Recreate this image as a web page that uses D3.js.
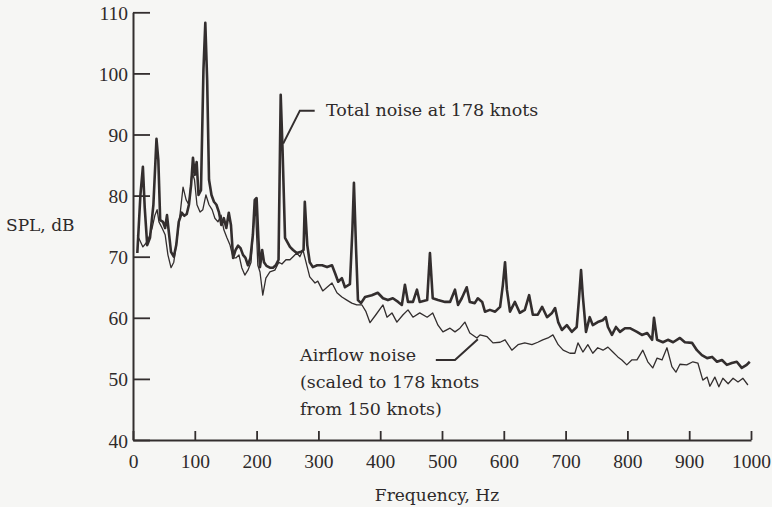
<!DOCTYPE html>
<html>
<head>
<meta charset="utf-8">
<script src="https://cdn.jsdelivr.net/npm/d3@7"></script>
<style>
  html, body { margin: 0; padding: 0; background: #f6f6f4; }
  svg { display: block; }
  text { font-family: "DejaVu Serif", "Liberation Serif", serif; fill: #2e2a2a; }
</style>
</head>
<body>
<svg id="chart" width="772" height="507"></svg>
<script>
// ---- Data ----
const xTicks = [0, 100, 200, 300, 400, 500, 600, 700, 800, 900, 1000];
const yTicks = [40, 50, 60, 70, 80, 90, 100, 110];

// Total noise at 178 knots: [frequency Hz, SPL dB]
const totalFreq = [7,12,16,19,23,27.5,33,38,41,44,48.5,52,55,58,61.5,66,70,74,79,83,87,90.5,94,97,100,103,106,110,114,117,120,123,127,131,135,139,143,147,151,155,158.5,162,166,170,174,178,182,186,190,194,197,200,203,205.5,209,212,216,221.5,226.5,231,235.5,239,242,246,254,259,265,272,276,278,282,286,291,298,306,314,322,327,332,338,343,351,355,357.5,361,364,369,375.5,386.5,396,404.5,412.5,420.5,429,435,440,445,453,459.5,464,476,480.5,485,493.5,505,513,521,526,532,540,545,553,558,565,569.5,577.5,586,594,598.5,602,605,610,618,626,634,641,647,655,662,670,678,683,688,694,702,710,718,721.5,725,728,733,739,744,752,760,765,768.5,775,781.5,788,796,804,815.5,823.5,832,840,843,848,857.5,865.5,874,885,893,904.5,912.5,920.5,929,937,945,953,961,969,977,985,993,998];
const totalSPL = [70.6,80.1,84.7,78,71.9,73.1,78.5,89.3,85.8,76,75.7,74.7,76.8,74,70.8,70,71.9,75.7,77.2,76.7,77,78.5,81.7,86.2,83.4,85.5,80.1,80.9,100.6,108.3,98.9,82.6,80.1,79,78.5,77.3,75.2,76.3,74.7,77.2,75.2,69.8,71.1,71.8,71.4,70.3,69.8,68.6,69.8,73.6,79.3,79.6,72.7,68.3,71.1,69.1,68.5,68.2,68.2,68.6,69.5,96.5,87.5,73.1,71.6,71.1,70.6,70.8,71.1,79,71.9,69.1,68.3,68.6,68.6,68.3,68.6,67.3,65.9,66.5,65,65.5,74.4,82.1,71.1,62.9,62.4,63.4,63.7,64.1,63.2,62.9,63.2,62.6,62.1,65.4,62.6,62.6,64.6,62.6,62.9,70.6,63.2,62.9,62.6,62.6,64.6,62.1,63.2,65,62.6,62.4,63.2,62.6,61,61.3,61,61.8,65.4,69.1,64.6,61,62.6,60.8,61.3,63.7,60.5,60.5,61.8,60.1,60.8,61.6,59.3,58,58.8,57.7,58.5,62.9,67.8,63.4,57.7,60.1,58.8,59.3,59.6,60.1,58.5,57.2,58.5,57.7,58.3,58.3,57.7,57.2,57.5,56.4,60,56.4,56,56.4,56,56.7,56,55.9,54.7,53.9,53.4,53.6,52.8,53.1,52.3,52.6,52.8,51.8,52.3,52.8];

// Airflow noise (scaled to 178 knots from 150 knots): [frequency Hz, SPL dB]
const airFreq = [7,11,16,21,26,31,35.5,39,42,47,52,56.5,61.5,66,71,76,81,86,90.5,95.5,99.5,103.5,108.5,113,118,123,128,132.5,137.5,142.5,147,152,157,162,166.5,171.5,176,181,186,191,194,198,202,205.5,210,215,221.5,229.5,236,241,247.5,254,259,265,270,275,281.5,286,294.5,299,307,314,322,330,338,346,354,362,370.5,377,383.5,393,404.5,411,419,427,437,445,453,464,476,485,493.5,501.5,513,521,529,537,545,556.5,561.5,573,582.5,594,602,613,623,634,645.5,655,663,671.5,679.5,688,696,707,715,720,728,736,744,752,760.5,768.5,776.5,784.5,791,799,807,815.5,825,833,841,848,856,864,872,878.5,885,896,906,914,922,929,933.5,941.5,948,954.5,963,971,979,987,995];
const airSPL = [73.5,72.7,71.6,72.2,73.2,74.7,76.8,77.7,75.7,74.7,73.6,70.3,68.2,69.1,72.7,76.8,81.4,79.3,78.5,83.9,82.6,78.5,77.3,77.7,80.1,78.5,77.7,76.3,75.7,76.8,74.4,73.1,71.9,69.8,69.8,70.3,68.2,67,67.8,69.1,73.6,78.5,68.6,67.5,63.7,66.5,67.5,67.8,69.1,68.8,69.5,69.5,70,70.6,70,71.1,68.5,66.7,65.7,66,64.4,65,65.7,64.1,63.4,62.9,62.4,62.1,62.1,61,59.2,60.5,62.1,60.1,60.8,59.3,60.5,61.3,60.1,60.8,60.1,60.8,58.8,57.7,58.3,57.7,58.3,59.3,57.5,56.7,57.2,56.9,55.9,56,56.4,54.7,55.6,55.9,55.6,56,56.4,56.7,57.2,55.6,54.7,54.2,54.2,55.9,54.4,55.6,54.2,55.1,54.7,55.2,54.4,53.6,53.1,52.3,53.1,53.1,54.7,52.8,51.8,53.4,53.1,55.1,52,51.1,52.4,52.3,52.8,52.6,49.8,50.3,48.8,50.3,48.7,50.1,49.2,50.1,49.5,50.1,49];

const labels = {
  xTitle: "Frequency, Hz",
  yTitle: "SPL, dB",
  total: ["Total noise at 178 knots"],
  air: ["Airflow noise", "(scaled to 178 knots", "from 150 knots)"]
};

// ---- Drawing ----
const ink = "#332e2e";
const svg = d3.select("#chart");
svg.append("rect").attr("width", 772).attr("height", 507).attr("fill", "#f6f6f4");

const x = d3.scaleLinear().domain([0, 1000]).range([133, 751]);
const y = d3.scaleLinear().domain([40, 110]).range([440, 12.3]);

const total = totalFreq.map((f, i) => [f, totalSPL[i]]);
const air = airFreq.map((f, i) => [f, airSPL[i]]);

const line = d3.line().x(d => x(d[0])).y(d => y(d[1]));

svg.append("path").datum(air)
  .attr("d", line).attr("fill", "none")
  .attr("stroke", ink).attr("stroke-width", 1.3).attr("stroke-linejoin", "round");
svg.append("path").datum(total)
  .attr("d", line).attr("fill", "none")
  .attr("stroke", ink).attr("stroke-width", 2.6).attr("stroke-linejoin", "round");

// Axes
const yAxis = svg.append("g").attr("transform", `translate(${x(0)},0)`)
  .call(d3.axisLeft(y).tickValues(yTicks).tickFormat(d3.format("d"))
    .tickSize(-17).tickSizeOuter(0).tickPadding(5));
const xAxis = svg.append("g").attr("transform", `translate(0,${y(40)})`)
  .call(d3.axisBottom(x).tickValues(xTicks).tickFormat(d3.format("d"))
    .tickSize(-9).tickSizeOuter(0).tickPadding(14));

[xAxis, yAxis].forEach(g => {
  g.select(".domain").attr("stroke", ink).attr("stroke-width", 2);
  g.selectAll(".tick line").attr("stroke", ink).attr("stroke-width", 1.8);
  g.selectAll(".tick text").attr("font-size", 19.5).attr("fill", "#2e2a2a")
    .style("font-family", '"Liberation Serif", serif');
});
yAxis.selectAll(".tick text").attr("dy", "0.36em");

// Axis titles
svg.append("text").attr("x", 437).attr("y", 501).attr("text-anchor", "middle")
  .attr("font-size", 17).text(labels.xTitle);
svg.append("text").attr("x", 6).attr("y", 231).attr("font-size", 17).text(labels.yTitle);

// Annotations
const leader = d3.line().x(d => x(d[0])).y(d => y(d[1]));
svg.append("path").datum([[243, 88.5], [270, 93.9], [294, 93.9]])
  .attr("d", leader).attr("fill", "none").attr("stroke", ink).attr("stroke-width", 2);
svg.append("text").attr("x", 326).attr("y", 116).attr("font-size", 17.5).text(labels.total[0]);

svg.append("path").datum([[490, 53.1], [521, 53.1], [558, 56.5]])
  .attr("d", leader).attr("fill", "none").attr("stroke", ink).attr("stroke-width", 2);
labels.air.forEach((t, i) => {
  svg.append("text").attr("x", 300).attr("y", 361 + i * 27).attr("font-size", 17.5).text(t);
});
</script>
</body>
</html>
